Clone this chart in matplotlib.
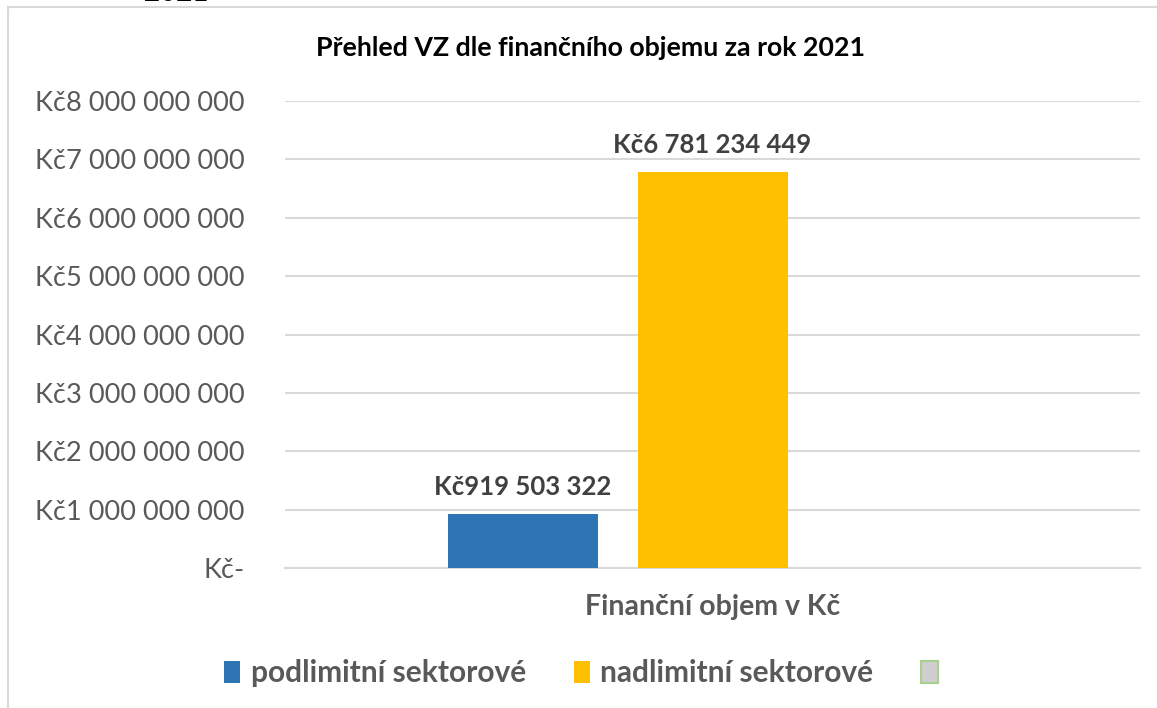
import matplotlib
matplotlib.use('Agg')
import matplotlib.pyplot as plt
from matplotlib.patches import Rectangle, Patch
import numpy as np

# data
category = 'Finanční objem v Kč'
series = ['podlimitní sektorové', 'nadlimitní sektorové', '']
values = [919503322, 6781234449, np.nan]
colors = ['#2e75b6', '#ffc000', '#d0cece']
y_ticks = [0, 1e9, 2e9, 3e9, 4e9, 5e9, 6e9, 7e9, 8e9]

plt.rcParams['font.family'] = ['Lato', 'DejaVu Sans']

def fmt(v):
    if v == 0:
        return 'Kč-'
    return 'Kč' + f'{v:,.0f}'.replace(',', ' ')

fig = plt.figure(figsize=(11.57, 7.08), dpi=100)
ax = fig.add_axes([285 / 1157, 1 - 568 / 708, 855 / 1157, 467 / 708])

width = 150 / 190
for i, (name, v, c) in enumerate(zip(series, values, colors)):
    x = i - 1
    if np.isnan(v):
        continue
    ax.bar(x, v, width=width, color=c, zorder=3)
    ax.annotate(fmt(v), (x, v), xytext=(0, 11), textcoords='offset points',
                ha='center', va='bottom', fontsize=18.5, fontweight='bold', color='#404040')

ax.set_xlim(-2.25, 2.25)
ax.set_ylim(0, 8e9)
ax.set_yticks(y_ticks)
ax.set_yticklabels([fmt(t) for t in y_ticks], fontsize=19.5, color='#595959')
ax.set_xticks([0])
ax.set_xticklabels([category], fontsize=20.5, fontweight='bold', color='#595959')
ax.tick_params(axis='y', length=0, pad=29)
ax.tick_params(axis='x', length=0, pad=19)
ax.grid(axis='y', color='#d9d9d9', lw=1.5, zorder=0)
for s in ['top', 'right', 'left']:
    ax.spines[s].set_visible(False)
ax.spines['bottom'].set_color('#d9d9d9')
ax.spines['bottom'].set_linewidth(1.5)

fig.text(590 / 1157, 1 - 48 / 708, 'Přehled VZ dle finančního objemu za rok 2021',
         ha='center', va='center', fontsize=19.3, fontweight='bold', color='black')

# chart border and the cut-off text above it
fig.patches.append(Rectangle((8 / 1157, -0.1), 1.2, 1 - 7 / 708 + 0.1, transform=fig.transFigure,
                             fill=False, edgecolor='#d9d9d9', lw=1.5))
fig.text(176 / 1157, 1 - 1 / 708, '2021', ha='center', va='baseline',
         fontsize=20, fontweight='bold', color='black')

handles = [Patch(facecolor=colors[0]), Patch(facecolor=colors[1]),
           Patch(facecolor=colors[2], edgecolor='#a9d18e', lw=1.5)]
fig.legend(handles, series, loc='center', bbox_to_anchor=(586 / 1157, 1 - 673 / 708),
           ncol=3, frameon=False, handlelength=0.55, handleheight=0.75, handletextpad=0.35,
           columnspacing=1.6, prop={'size': 21.5, 'weight': 'bold'}, labelcolor='#595959')

fig.savefig('out.png', dpi=100)
